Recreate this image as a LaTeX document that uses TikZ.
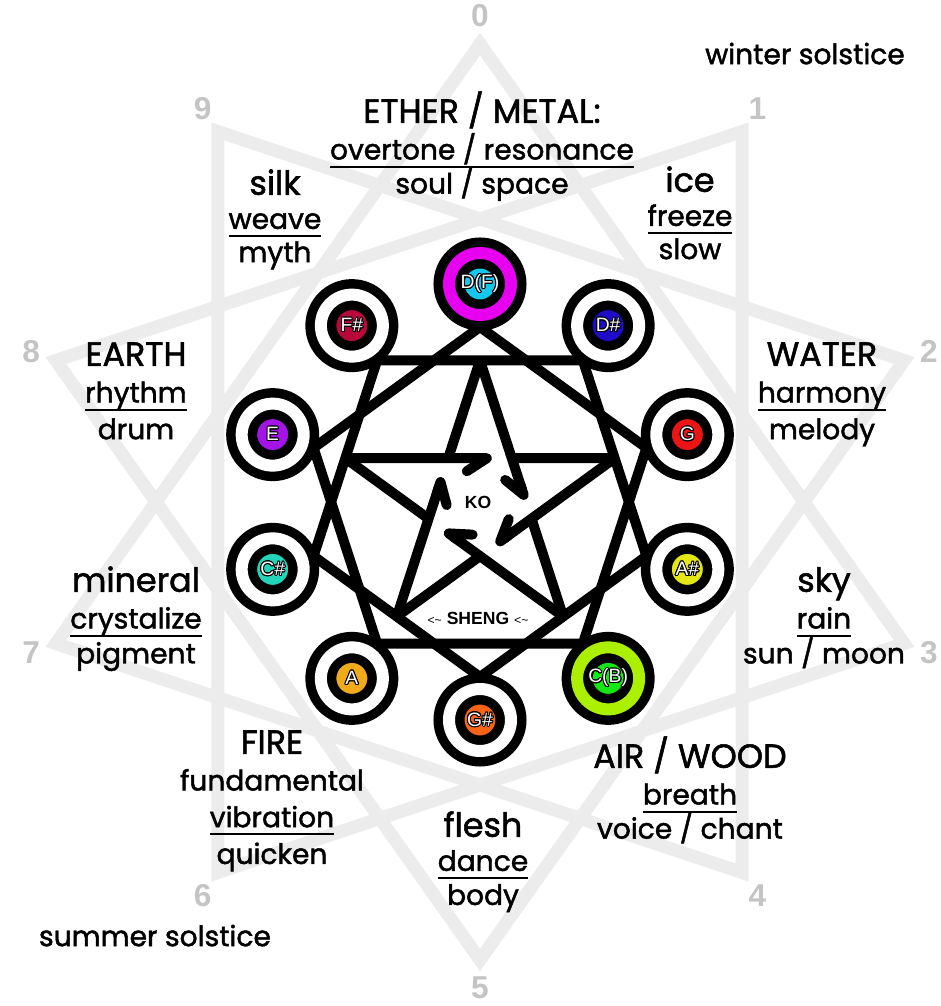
\documentclass[tikz,border=0pt]{standalone}
\usepackage{fontspec}
\setmainfont{Poppins}[FakeBold=1.6]
\newfontfamily\labelfont{Liberation Sans}
\usepackage{contour}
\usetikzlibrary{arrows.meta, positioning}
\contourlength{0.55pt}
\definecolor{cStar}{RGB}{236,236,236}
\definecolor{cNum}{RGB}{196,196,196}
\definecolor{cDF}{RGB}{22,198,236}
\definecolor{cMag}{RGB}{232,0,240}
\definecolor{cDs}{RGB}{30,12,200}
\definecolor{cG}{RGB}{236,20,20}
\definecolor{cAs}{RGB}{228,230,22}
\definecolor{cCB}{RGB}{20,232,20}
\definecolor{cLime}{RGB}{170,240,0}
\definecolor{cGs}{RGB}{245,100,20}
\definecolor{cA}{RGB}{240,170,26}
\definecolor{cCs}{RGB}{34,212,186}
\definecolor{cE}{RGB}{165,20,230}
\definecolor{cFs}{RGB}{184,8,58}
\newcommand{\ulword}[1]{\setbox0\hbox{#1}\rlap{\vrule height -3.5pt depth 4.6pt width \wd0}\box0}
\tikzset{
	starline/.style={draw=cStar, line width=2.6mm},
	link/.style    ={draw=black, line width=2mm},
	ko/.style      ={link, -{Straight Barb[harpoon, swap, round, length=4mm, width=5.2mm]}, shorten >=4mm},
	note/.style    ={circle, minimum size=12.4mm, inner sep=0pt, draw=black, line width=1.9mm, double=white, double distance=2.4mm, text=white, font=\labelfont\fontsize{11}{12}\selectfont},
	vertex/.style  ={text=cNum, font=\labelfont\bfseries\fontsize{18}{20}\selectfont},
	% element and quality lines
	elem/.style    ={font=\fontsize{19}{22}\selectfont, text height=14pt, text depth=4pt, inner sep=0pt},
	quality/.style ={font=\fontsize{16}{20}\selectfont, text height=11pt, text depth=4pt, inner sep=0pt},
}
\begin{document}
\begin{tikzpicture}[x=0.2mm, y=0.2mm, node distance=5.5pt]
	\useasboundingbox (-480,-504) rectangle (461,502);
	% background star {10/3}
	\draw[starline] (90:446 and 458) \foreach \i in {1,...,9} { -- (90-108*\i:446 and 458) } -- cycle;
	\foreach \i in {0,...,9}
		\node[vertex] (v\i) at (90-36*\i:472 and 486) {\i};
	% two pentagons
	\foreach \i in {0,...,9}
		\coordinate (p\i) at (90-36*\i:175);
	\draw[link] (p0) -- (p2) -- (p4) -- (p6) -- (p8) -- cycle;
	\draw[link] (p1) -- (p3) -- (p5) -- (p7) -- (p9) -- cycle;
	% ko pentagram
	\foreach \j in {0,...,4} {
		\coordinate (k\j) at (90-72*\j:141.6);
		\coordinate (s\j) at (-18-72*\j:54.1);
	}
	\foreach \j [evaluate=\j as \t using {int(mod(\j+2,5))}] in {0,...,4} {
		\draw[ko] (k\j) -- (s\j);
		\draw[link] (s\j) -- (k\t);
	}
	% notes
	\foreach \i/\nm/\col/\rng in {0/D(F)/cDF/cMag, 1/D\#/cDs/white, 2/G/cG/white, 3/A\#/cAs/white, 4/C(B)/cCB/cLime,
			5/G\#/cGs/white, 6/A/cA/white, 7/C\#/cCs/white, 8/E/cE/white, 9/F\#/cFs/white}
		\node[note, fill=\col, double=\rng] (n\i) at (90-36*\i:218) {\contour{black}{\nm}};
	\node[font=\labelfont\bfseries\fontsize{10}{12}\selectfont] (ko) at (-2,0) {KO};
	\node[font=\labelfont\bfseries\fontsize{10}{12}\selectfont] (sheng) at (-2,-116)
		{{\mdseries\fontsize{7}{8}\selectfont <\textasciitilde} SHENG {\mdseries\fontsize{7}{8}\selectfont <\textasciitilde}};
	% elements
	\node[elem] (ether) at (2,388) {ETHER / METAL:};
	\node[quality, below=of ether] (overtone) {\ulword{overtone / resonance}};
	\node[quality, below=4pt of overtone] (soul) {soul / space};
	\node[elem] (silk) at (-205,316) {silk};
	\node[quality, below=4pt of silk] (weave) {\ulword{weave}};
	\node[quality, below=3.5pt of weave] (myth) {myth};
	\node[elem] (ice) at (210,319) {ice};
	\node[quality, below=4pt of ice] (freeze) {\ulword{freeze}};
	\node[quality, below=3.5pt of freeze] (slow) {slow};
	\node[elem] (earth) at (-344,145) {EARTH};
	\node[quality, below=of earth] (rhythm) {\ulword{rhythm}};
	\node[quality, below=of rhythm] (drum) {drum};
	\node[elem] (water) at (342,145) {WATER};
	\node[quality, below=of water] (harmony) {\ulword{harmony}};
	\node[quality, below=of harmony] (melody) {melody};
	\node[elem] (mineral) at (-344,-81) {mineral};
	\node[quality, below=of mineral] (crystal) {\ulword{crystalize}};
	\node[quality, below=4.5pt of crystal] (pigment) {pigment};
	\node[elem] (sky) at (344,-81) {sky};
	\node[quality, below=of sky] (rain) {\ulword{rain}};
	\node[quality, below=4.5pt of rain] (sunmoon) {sun / moon};
	\node[elem] (fire) at (-208,-243) {FIRE};
	\node[quality, below=of fire] (fundamental) {fundamental};
	\node[quality, below=of fundamental] (vibration) {\ulword{vibration}};
	\node[quality, below=of vibration] (quicken) {quicken};
	\node[elem] (air) at (210,-257) {AIR / WOOD};
	\node[quality, below=of air] (breath) {\ulword{breath}};
	\node[quality, below=4pt of breath] (voice) {voice / chant};
	\node[elem] (flesh) at (3,-326) {flesh};
	\node[quality, below=4pt of flesh] (dance) {\ulword{dance}};
	\node[quality, below=4pt of dance] (body) {body};
	% solstices
	\node[quality] (winter) at (325,444) {winter solstice};
	\node[quality] (summer) at (-325,-438) {summer solstice};
\end{tikzpicture}
\end{document}
